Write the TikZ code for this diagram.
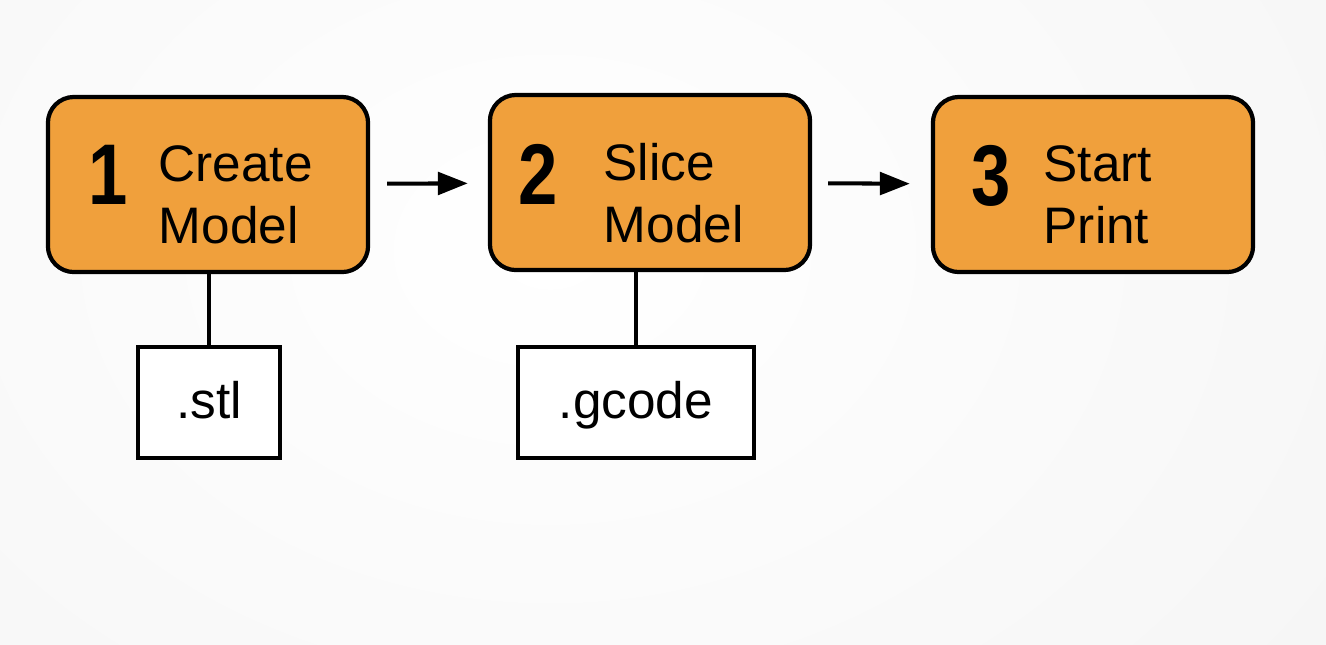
\documentclass[tikz,border=0pt]{standalone}
\usepackage{fontspec}
\setmainfont{Liberation Sans}
\usetikzlibrary{arrows.meta}
\definecolor{steporange}{HTML}{F0A03C}
\tikzset{
  stepbox/.style={draw=black,line width=1.2pt,fill=steporange,rounded corners=0.26cm,
    minimum width=3.2cm,minimum height=1.75cm},
  filebox/.style={draw=black,line width=0.9pt,fill=white,minimum width=1.42cm,minimum height=1.11cm,
    text height=1em,text depth=0.08em,font=\fontsize{14.6}{17}\selectfont},
  stepnum/.style={font=\fontsize{24.5}{24}\selectfont\bfseries,inner sep=0pt},
  steptext/.style={font=\fontsize{14.6}{17.6}\selectfont,align=left,inner sep=0pt,anchor=west},
  flow/.style={line width=1.15pt,-{Triangle[length=8.5pt,width=6.4pt]}}
}
\newcommand{\narrow}[1]{\scalebox{0.82}[1]{#1}}
\begin{document}
\begin{tikzpicture}[x=0.01cm,y=-0.01cm]
                \useasboundingbox (0,0) rectangle (1326,644);
                \clip (0,0) rectangle (1326,644);
                \shade[inner color=white,outer color=gray!9] (-650,-650) rectangle (1750,1150);
                %% steps
                \node[stepbox] (s1) at (208,184.5) {};
                \node[stepbox] (s2) at (650,182.5) {};
                \node[stepbox] (s3) at (1093,184.5) {};
                \node[stepnum] (n1) at (108,175) {\narrow{1}};
                \node[stepnum] (n2) at (538,174) {\narrow{2}};
                \node[stepnum] (n3) at (991,176) {\narrow{3}};
                \node[steptext] (t1) at (158,195) {Create\\Model};
                \node[steptext] (t2) at (603,193) {Slice\\Model};
                \node[steptext] (t3) at (1043,195) {Start\\Print};
                %% files
                \node[filebox] (stl) at (209,402.5) {.stl};
                \node[filebox,minimum width=2.36cm] (gcode) at (636,402.5) {.gcode};
                %% connectors
                \draw[flow,shorten <=0.17cm,shorten >=0.2cm] (s1) -- (s2);
                \draw[flow,shorten <=0.16cm,shorten >=0.21cm] (s2) -- (s3);
                \draw[line width=0.9pt] (s1.south -| stl.north) -- (stl.north);
                \draw[line width=0.9pt] (s2.south -| gcode.north) -- (gcode.north);
            \end{tikzpicture}
\end{document}
